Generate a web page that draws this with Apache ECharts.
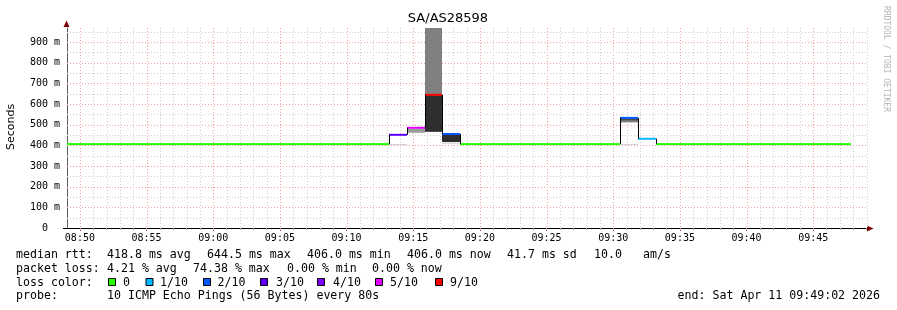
<!DOCTYPE html>
<html><head><meta charset="utf-8">
<script src="https://cdn.jsdelivr.net/npm/echarts@6/dist/echarts.min.js"></script>
<style>html,body{margin:0;padding:0;background:#fff}#c{width:897px;height:310px}</style>
</head><body><div id="c"></div>
<script>
// ---------- data ----------
const graphTitle = 'SA/AS28598';
const graphStart = '08:49:02';
const graphEnd = '09:49:02';
const stepSeconds = 80;
const stepStarts = ['08:47:51','08:49:11','08:50:31','08:51:51','08:53:11','08:54:31','08:55:51','08:57:11','08:58:31','08:59:51',
  '09:01:11','09:02:31','09:03:51','09:05:11','09:06:31','09:07:51','09:09:11','09:10:31','09:11:51','09:13:11',
  '09:14:31','09:15:51','09:17:11','09:18:31','09:19:51','09:21:11','09:22:31','09:23:51','09:25:11','09:26:31',
  '09:27:51','09:29:11','09:30:31','09:31:51','09:33:11','09:34:31','09:35:51','09:37:11','09:38:31','09:39:51',
  '09:41:11','09:42:31','09:43:51','09:45:11','09:46:31'];
const medianMs = [406,406,406,406,406,406,406,406,406,406,
  406,406,406,406,406,406,406,406,406,451,
  485,644.5,455,406,406,406,406,406,406,406,
  406,406,533,432,406,406,406,406,406,406,
  406,406,406,406,406];
const lossCount = [0,0,0,0,0,0,0,0,0,0,
  0,0,0,0,0,0,0,0,0,3,
  5,9,2,0,0,0,0,0,0,0,
  0,0,2,1,0,0,0,0,0,0,
  0,0,0,0,0];
// smoke (ping spread) bands
const smokeStart = ['09:13:11','09:14:31','09:15:51','09:15:51','09:17:11','09:17:11','09:30:31','09:30:31','09:30:31'];
const smokeLow   = [401, 461, 466, 466, 408, 416, 402, 511, 519];
const smokeHigh  = [406, 480, 968, 641, 412, 451, 406, 519, 531];
const smokeDepth = [1, 2, 3, 5, 1, 5, 1, 3, 4];
const xTickLabels = ['08:50','08:55','09:00','09:05','09:10','09:15','09:20','09:25','09:30','09:35','09:40','09:45'];
const yTickValues = [0,100,200,300,400,500,600,700,800,900];
const yMax = 968;
const lossLevels = [0,1,2,3,4,5,9];
const lossLabels = ['0','1/10','2/10','3/10','4/10','5/10','9/10'];
const statsRtt = ['418.8 ms avg','644.5 ms max','406.0 ms min','406.0 ms now','41.7 ms sd','10.0','am/s'];
const statsLoss = ['4.21 % avg','74.38 % max','0.00 % min','0.00 % now'];
const probeText = '10 ICMP Echo Pings (56 Bytes) every 80s';
const endText = 'end: Sat Apr 11 09:49:02 2026';

// ---------- styles ----------
const lossPalette = ['#26ff00','#00b8ff','#0059ff','#5e00ff','#7e00ff','#dd00ff','#ff0000'];
const smokePalette = {1:'#cdcdcd',2:'#9a9a9a',3:'#808080',4:'#4a4a4a',5:'#2e2e2e'};
const MONO = 'DejaVu Sans Mono';

function toSec(s){ const p=s.split(':').map(Number); return p[0]*3600+p[1]*60+(p[2]||0); }
const startSec = toSec(graphStart), endSec = toSec(graphEnd);
const span = endSec - startSec;
function lossColor(l){ let c=lossPalette[0]; lossLevels.forEach((lv,i)=>{ if(l>=lv) c=lossPalette[i]; }); return c; }

const medianData = stepStarts.map((s,i)=>{
  const a = toSec(s)-startSec;
  return [a, a+stepSeconds, medianMs[i], lossCount[i], i>0?medianMs[i-1]:medianMs[i]];
});
const smokeData = smokeStart.map((s,i)=>{
  const a = toSec(s)-startSec;
  return [a, a+stepSeconds, smokeLow[i], smokeHigh[i], smokeDepth[i]];
});
const gridData = [];
for (let t=Math.ceil(startSec/60)*60; t<endSec; t+=60) gridData.push([0, t-startSec, t%300===0?1:0]);
for (let i=0;i<yTickValues.length;i++){
  const v=yTickValues[i];
  if (v>0) gridData.push([1, v, 1]);
  const h = v + 50;
  if (h < yMax) gridData.push([1, h, 0]);
}
const xTickOffsets = xTickLabels.map(l=>toSec(l+':00')-startSec);
const minuteOffsets = gridData.filter(d=>d[0]===0).map(d=>d[1]);

const chart = echarts.init(document.getElementById('c'), null, {renderer:'canvas'});

const graphics = [];
function txt(x,y,t,opt){ graphics.push(Object.assign({type:'text', x:x, y:y, silent:true,
  style:{text:t, fontFamily:MONO, fontSize:11.6, fill:'#000', align:'left', verticalAlign:'middle'}}, opt||{})); }
// title
graphics.push({type:'text', x:448, y:19, silent:true, style:{text:graphTitle, fontFamily:'DejaVu Sans', fontSize:13, fill:'#000', align:'center', verticalAlign:'middle'}});
// y axis name
graphics.push({type:'text', x:11, y:127, rotation:Math.PI/2, silent:true, style:{text:'Seconds', fontFamily:'DejaVu Sans', fontSize:11, fill:'#000', align:'center', verticalAlign:'middle'}});
// watermark
graphics.push({type:'text', x:886, y:59, rotation:-Math.PI/2, silent:true, style:{text:'RRDTOOL / TOBI OETIKER', fontFamily:MONO, fontSize:8, fill:'#b4b4b4', align:'center', verticalAlign:'middle'}});
// arrows
graphics.push({type:'polygon', silent:true, shape:{points:[[66.5,20.5],[63.5,27],[69.5,27]]}, style:{fill:'#7f0000'}});
graphics.push({type:'polygon', silent:true, shape:{points:[[873.5,228.5],[867,225.5],[867,231.5]]}, style:{fill:'#7f0000'}});
graphics.push({type:'line', silent:true, shape:{x1:63,y1:228.5,x2:67,y2:228.5}, style:{stroke:'#000',lineWidth:1}});
// legend rows
const r1=254.7, r2=268.7, r3=282.5, r4=296.3;
txt(16,r1,'median rtt:');
[107,207,307,407,507,594,643].forEach((x,i)=>txt(x,r1,statsRtt[i]));
txt(16,r2,'packet loss:');
[107,193,287,372].forEach((x,i)=>txt(x,r2,statsLoss[i]));
txt(16,r3,'loss color:');
const boxX=[108,145.5,203,260,317,375,435];
const labX=[123,160,217.5,276,333,390,450];
lossLabels.forEach((l,i)=>{
  graphics.push({type:'rect', silent:true, shape:{x:boxX[i]+0.5,y:278.5,width:7,height:7}, style:{fill:lossPalette[i],stroke:'#000',lineWidth:1}});
  txt(labX[i],r3,l);
});
txt(16,r4,'probe:');
txt(107,r4,probeText);
txt(880,r4,endText,{style:{text:endText,fontFamily:MONO,fontSize:11.6,fill:'#000',align:'right',verticalAlign:'middle'}});

chart.setOption({
  animation:false,
  backgroundColor:'#fff',
  grid:{left:67, top:28, width:800, height:200, containLabel:false},
  xAxis:[{
    type:'value', min:0, max:span,
    axisLine:{show:true, lineStyle:{color:'#000', width:1}},
    axisTick:{show:true, customValues:xTickOffsets, length:3, lineStyle:{color:'#ff5050'}},
    axisLabel:{show:true, customValues:xTickOffsets, margin:5, fontFamily:MONO, fontSize:10, color:'#000',
      formatter:function(v){ const i=xTickOffsets.indexOf(v); return i>=0?xTickLabels[i]:''; }},
    splitLine:{show:false}
  },{
    type:'value', min:0, max:span, position:'bottom', gridIndex:0,
    axisLine:{show:false},
    axisTick:{show:true, customValues:minuteOffsets, length:2, lineStyle:{color:'#aaaaaa'}},
    axisLabel:{show:false}, splitLine:{show:false}
  }],
  yAxis:{
    type:'value', min:0, max:yMax,
    axisLine:{show:true, lineStyle:{color:'#606060', width:1}},
    axisTick:{show:false},
    axisLabel:{customValues:yTickValues, margin:7, fontFamily:MONO, fontSize:10, color:'#000',
      formatter:function(v){ return v===0?'0  ':(v+' m'); }},
    splitLine:{show:false}
  },
  graphic:graphics,
  series:[
    {type:'custom', name:'grid', z:1, silent:true, data:gridData, encode:{x:1,y:1},
     renderItem:function(params, api){
       const cs=params.coordSys; const kind=api.value(0), v=api.value(1), major=api.value(2);
       let shape;
       if(kind===0){ const x=Math.round(api.coord([v,0])[0])+0.5; shape={x1:x,y1:cs.y,x2:x,y2:cs.y+cs.height}; }
       else { const y=Math.round(api.coord([0,v])[1])+0.5; shape={x1:cs.x,y1:y,x2:cs.x+cs.width,y2:y}; }
       return {type:'line', shape:shape, style:{stroke:major?'#f5a0a0':'#cfcfcf', lineWidth:1, lineDash:[1,2]}};
     }},
    {type:'custom', name:'smoke', z:2, silent:true, data:smokeData, encode:{x:[0,1],y:[2,3]},
     renderItem:function(params, api){
       const cs=params.coordSys;
       const p1=api.coord([api.value(0), api.value(3)]), p2=api.coord([api.value(1), api.value(2)]);
       const x0=Math.max(cs.x, Math.round(p1[0])), x1=Math.round(p2[0]);
       const y0=Math.max(cs.y, p1[1]);
       return {type:'rect', shape:{x:x0,y:y0,width:x1-x0,height:p2[1]-y0}, style:{fill:smokePalette[api.value(4)]}};
     }},
    {type:'custom', name:'median', z:3, silent:true, data:medianData, encode:{x:[0,1],y:2},
     renderItem:function(params, api){
       const cs=params.coordSys;
       const s=api.coord([api.value(0), api.value(2)]), e=api.coord([api.value(1), api.value(2)]);
       const p=api.coord([api.value(0), api.value(4)]);
       const xs=Math.max(cs.x, Math.round(s[0])), xe=Math.round(e[0]);
       const children=[{type:'line', shape:{x1:xs,y1:s[1],x2:xe,y2:e[1]}, style:{stroke:lossColor(api.value(3)), lineWidth:2}}];
       if(api.value(4)!==api.value(2)){
         children.push({type:'line', shape:{x1:xs+0.5,y1:p[1],x2:xs+0.5,y2:s[1]}, style:{stroke:'#000', lineWidth:1}});
       }
       return {type:'group', children:children};
     }}
  ]
});
</script></body></html>
